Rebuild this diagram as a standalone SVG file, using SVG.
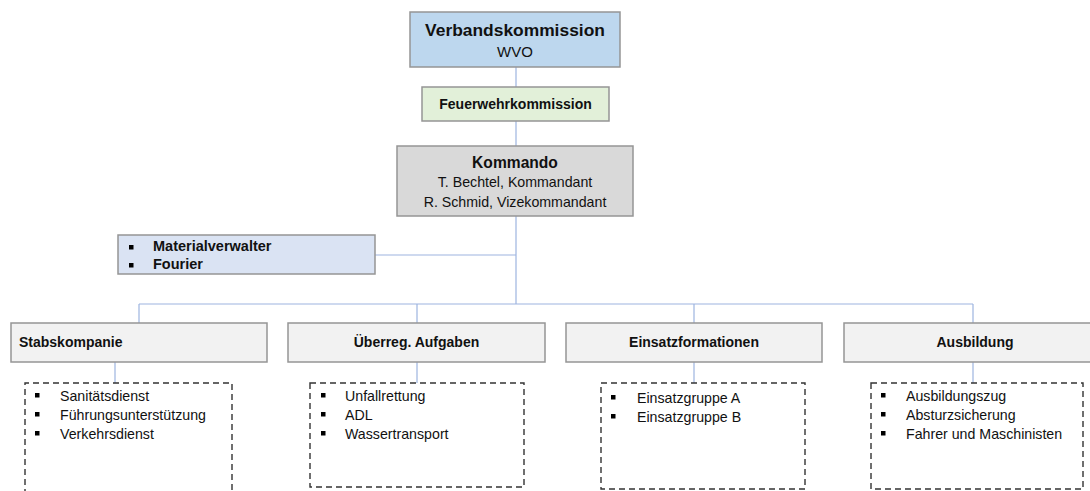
<svg xmlns="http://www.w3.org/2000/svg" width="1090" height="491" viewBox="0 0 1090 491">
  <style>
    text { font-family: "Liberation Sans", Arial, sans-serif; fill: #111; }
    .b { font-weight: bold; }
    .c { text-anchor: middle; }
    .box { stroke: #959595; stroke-width: 1.5; }
    .sub { fill: #fff; stroke: #333; stroke-width: 1.4; stroke-dasharray: 6 4; }
    .link { fill: none; stroke: #9db4e0; stroke-width: 1.2; }
    .dot { fill: #000; }
  </style>

  <!-- connectors -->
  <g id="connectors" class="link">
    <line x1="516" y1="67" x2="516" y2="87"/>
    <line x1="516" y1="121" x2="516" y2="146"/>
    <line x1="516" y1="216" x2="516" y2="304"/>
    <line x1="375" y1="255" x2="516" y2="255"/>
    <line x1="139" y1="304" x2="973" y2="304"/>
    <line x1="139" y1="304" x2="139" y2="323"/>
    <line x1="417" y1="304" x2="417" y2="323"/>
    <line x1="694" y1="304" x2="694" y2="323"/>
    <line x1="973" y1="304" x2="973" y2="323"/>
    <line x1="115" y1="362" x2="115" y2="383"/>
    <line x1="417" y1="362" x2="417" y2="383"/>
    <line x1="694" y1="362" x2="694" y2="383"/>
    <line x1="973" y1="362" x2="973" y2="383"/>
  </g>

  <g id="verbandskommission">
    <rect class="box" x="410" y="12" width="210" height="55" fill="#bdd7ee"/>
    <text class="b c" x="515" y="36" font-size="17.4">Verbandskommission</text>
    <text class="c" x="515" y="57" font-size="15">WVO</text>
  </g>

  <g id="feuerwehrkommission">
    <rect class="box" x="422" y="87" width="187" height="34" fill="#e2f0d9"/>
    <text class="b c" x="515.5" y="109" font-size="14">Feuerwehrkommission</text>
  </g>

  <g id="kommando">
    <rect class="box" x="397" y="146" width="236" height="70" fill="#d9d9d9"/>
    <text class="b c" x="515" y="168" font-size="15.6">Kommando</text>
    <text class="c" x="515" y="187" font-size="14.2">T. Bechtel, Kommandant</text>
    <text class="c" x="515" y="207" font-size="14.2">R. Schmid, Vizekommandant</text>
  </g>

  <g id="stab">
    <rect class="box" x="118" y="235" width="257" height="39" fill="#dae3f3"/>
    <rect class="dot" x="129" y="245" width="4.5" height="4.5"/>
    <rect class="dot" x="129" y="263" width="4.5" height="4.5"/>
    <text class="b" x="153" y="251" font-size="14.5">Materialverwalter</text>
    <text class="b" x="153" y="269" font-size="14.5">Fourier</text>
  </g>

  <g id="stabskompanie">
    <rect class="box" x="11" y="323" width="256" height="39" fill="#f2f2f2"/>
    <text class="b" x="19" y="347" font-size="14">Stabskompanie</text>
    <path class="sub" d="M25 495 V383 H232 V495"/>
    <rect class="dot" x="35" y="393" width="4.5" height="4.5"/>
    <rect class="dot" x="35" y="412" width="4.5" height="4.5"/>
    <rect class="dot" x="35" y="431" width="4.5" height="4.5"/>
    <text x="60" y="401" font-size="14.2">Sanitätsdienst</text>
    <text x="60" y="420" font-size="14.2">Führungsunterstützung</text>
    <text x="60" y="439" font-size="14.2">Verkehrsdienst</text>
  </g>

  <g id="ueberregional">
    <rect class="box" x="288" y="323" width="257" height="39" fill="#f2f2f2"/>
    <text class="b c" x="416.5" y="347" font-size="14">Überreg. Aufgaben</text>
    <rect class="sub" x="310" y="383" width="214" height="104"/>
    <rect class="dot" x="321" y="393" width="4.5" height="4.5"/>
    <rect class="dot" x="321" y="412" width="4.5" height="4.5"/>
    <rect class="dot" x="321" y="431" width="4.5" height="4.5"/>
    <text x="345" y="401" font-size="14.2">Unfallrettung</text>
    <text x="345" y="420" font-size="14.2">ADL</text>
    <text x="345" y="439" font-size="14.2">Wassertransport</text>
  </g>

  <g id="einsatzformationen">
    <rect class="box" x="566" y="323" width="256" height="39" fill="#f2f2f2"/>
    <text class="b c" x="694" y="347" font-size="14">Einsatzformationen</text>
    <rect class="sub" x="601" y="383" width="204" height="106"/>
    <rect class="dot" x="611" y="395" width="4.5" height="4.5"/>
    <rect class="dot" x="611" y="414" width="4.5" height="4.5"/>
    <text x="637" y="403" font-size="14.2">Einsatzgruppe A</text>
    <text x="637" y="422" font-size="14.2">Einsatzgruppe B</text>
  </g>

  <g id="ausbildung">
    <rect class="box" x="844" y="323" width="262" height="39" fill="#f2f2f2"/>
    <text class="b c" x="975" y="347" font-size="14">Ausbildung</text>
    <rect class="sub" x="871" y="383" width="212" height="106"/>
    <rect class="dot" x="881" y="393" width="4.5" height="4.5"/>
    <rect class="dot" x="881" y="412" width="4.5" height="4.5"/>
    <rect class="dot" x="881" y="431" width="4.5" height="4.5"/>
    <text x="906" y="401" font-size="14.2">Ausbildungszug</text>
    <text x="906" y="420" font-size="14.2">Absturzsicherung</text>
    <text x="906" y="439" font-size="14.2">Fahrer und Maschinisten</text>
  </g>
</svg>
